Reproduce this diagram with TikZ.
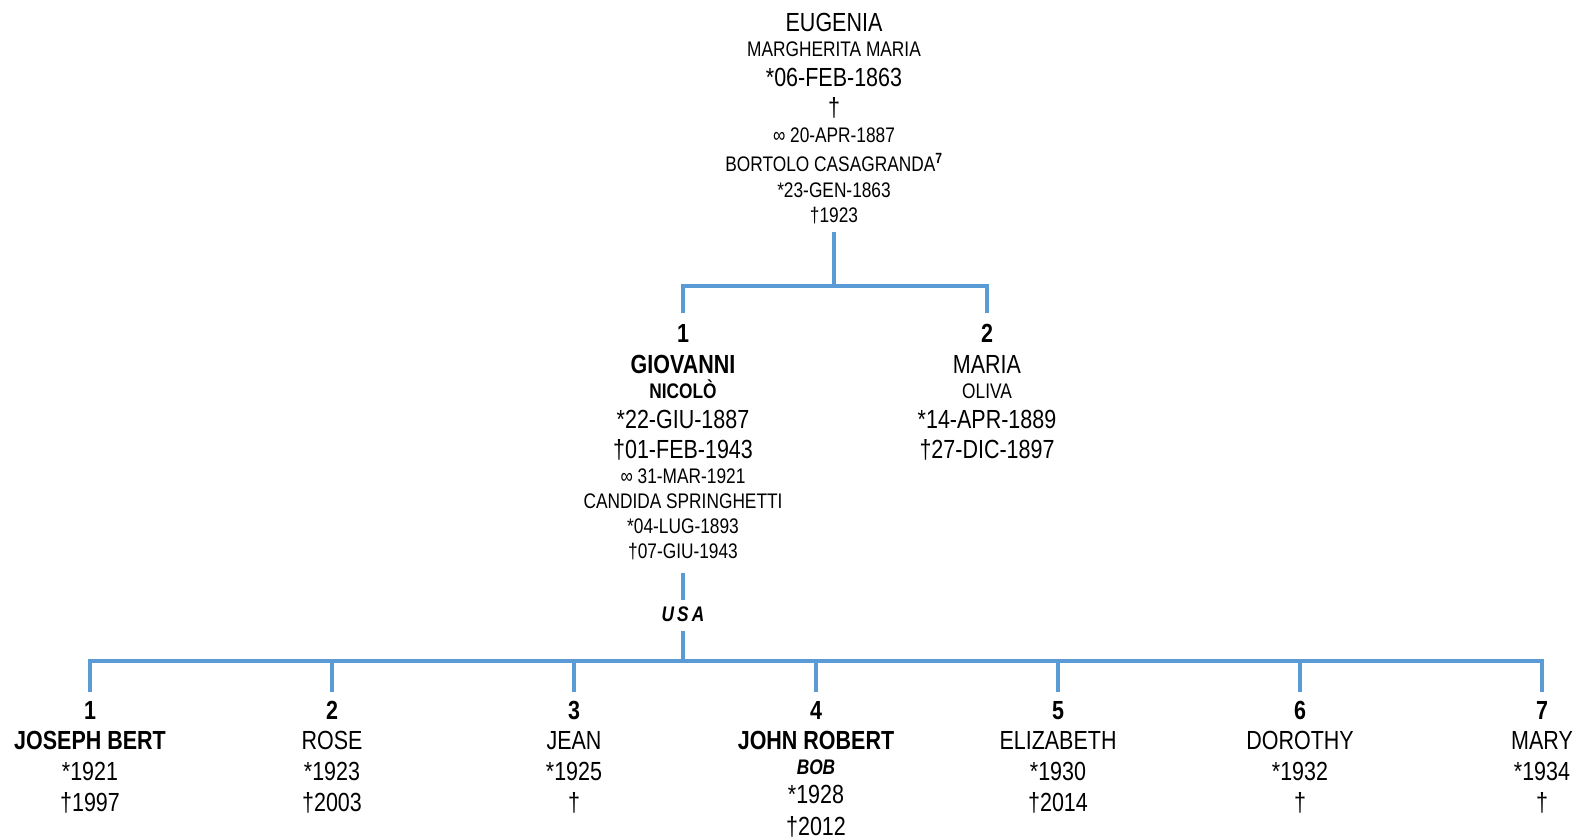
\documentclass[tikz,border=0pt]{standalone}
\usepackage{fontspec}
\setmainfont{Liberation Sans}[FakeStretch=0.82]
\newcommand\lgfont{\fontsize{26.2}{30}\selectfont}
\newcommand\smfont{\fontsize{21.1}{25}\selectfont}
\definecolor{tree}{HTML}{5B9BD5}
\tikzset{
  txt/.style={anchor=base, inner sep=0pt, text=black},
  lg/.style={txt, font=\lgfont},
  lgb/.style={txt, font=\lgfont\bfseries},
  sm/.style={txt, font=\smfont},
  smb/.style={txt, font=\smfont\bfseries},
  smbi/.style={txt, font=\smfont\bfseries\itshape},
  link/.style={draw=tree, line width=3.6pt, line join=miter, line cap=butt}
}
\begin{document}
\begin{tikzpicture}[x=1pt, y=-1pt]
\useasboundingbox (0,0) rectangle (1576,840);
% top person
\node[lg] (t1) at (834,31.4) {EUGENIA};
\node[sm] (t2) at (834,56.5) {MARGHERITA MARIA};
\node[lg] (t3) at (834,86.4) {*06-FEB-1863};
\node[lg] (t4) at (834,116.4) {†};
\node[sm] (t5) at (834,142.5) {∞ 20-APR-1887};
\node[sm] (t6) at (834,171.5) {BORTOLO CASAGRANDA\textsuperscript{\bfseries 7}};
\node[sm] (t7) at (834,197.5) {*23-GEN-1863};
\node[sm] (t8) at (834,222.5) {†1923};
% generation 2
\node[lgb] (a1) at (683,342) {1};
\node[lgb] (a2) at (683,373) {GIOVANNI};
\node[smb] (a3) at (683,398.5) {NICOLÒ};
\node[lg] (a4) at (683,428) {*22-GIU-1887};
\node[lg] (a5) at (683,458.5) {†01-FEB-1943};
\node[sm] (a6) at (683,483.5) {∞ 31-MAR-1921};
\node[sm] (a7) at (683,508) {CANDIDA SPRINGHETTI};
\node[sm] (a8) at (683,533) {*04-LUG-1893};
\node[sm] (a9) at (683,558.5) {†07-GIU-1943};
\node[lgb] (b1) at (987,342) {2};
\node[lg] (b2) at (987,373) {MARIA};
\node[sm] (b3) at (987,398.5) {OLIVA};
\node[lg] (b4) at (987,428) {*14-APR-1889};
\node[lg] (b5) at (987,458.5) {†27-DIC-1897};
% USA
\node[smbi] (usa) at (683,621) {U\hspace{3.2pt}S\hspace{3.2pt}A};
% generation 3
\node[lgb] (c1n) at (90,719) {1};
\node[lgb] (c1a) at (90,749) {JOSEPH BERT};
\node[lg] (c1b) at (90,780) {*1921};
\node[lg] (c1c) at (90,811.5) {†1997};
\node[lgb] (c2n) at (332,719) {2};
\node[lg] (c2a) at (332,749) {ROSE};
\node[lg] (c2b) at (332,780) {*1923};
\node[lg] (c2c) at (332,811.5) {†2003};
\node[lgb] (c3n) at (574,719) {3};
\node[lg] (c3a) at (574,749) {JEAN};
\node[lg] (c3b) at (574,780) {*1925};
\node[lg] (c3c) at (574,811.5) {†};
\node[lgb] (c4n) at (816,719) {4};
\node[lgb] (c4a) at (816,749) {JOHN ROBERT};
\node[smbi] (c4x) at (816,774.5) {BOB};
\node[lg] (c4b) at (816,803.5) {*1928};
\node[lg] (c4c) at (816,835.5) {†2012};
\node[lgb] (c5n) at (1058,719) {5};
\node[lg] (c5a) at (1058,749) {ELIZABETH};
\node[lg] (c5b) at (1058,780) {*1930};
\node[lg] (c5c) at (1058,811.5) {†2014};
\node[lgb] (c6n) at (1300,719) {6};
\node[lg] (c6a) at (1300,749) {DOROTHY};
\node[lg] (c6b) at (1300,780) {*1932};
\node[lg] (c6c) at (1300,811.5) {†};
\node[lgb] (c7n) at (1542,719) {7};
\node[lg] (c7a) at (1542,749) {MARY};
\node[lg] (c7b) at (1542,780) {*1934};
\node[lg] (c7c) at (1542,811.5) {†};
% junction coordinates
\coordinate (ttop) at (834,232);
\coordinate (tj) at (834,286);
\coordinate (a0) at (683,313);
\coordinate (b0) at (987,313);
\coordinate (au) at (683,573);
\coordinate (ua) at (683,600);
\coordinate (ub) at (683,631);
\coordinate (uj) at (683,661);
\coordinate (c1t) at (90,692);
\coordinate (c2t) at (332,692);
\coordinate (c3t) at (574,692);
\coordinate (c4t) at (816,692);
\coordinate (c5t) at (1058,692);
\coordinate (c6t) at (1300,692);
\coordinate (c7t) at (1542,692);
% connectors
\draw[link] (ttop) -- (tj);
\draw[link] (a0) |- (tj) -| (b0);
\draw[link] (au) -- (ua);
\draw[link] (ub) -- (uj);
\draw[link] (c1t) |- (uj) -| (c7t);
\foreach \c in {c2t,c3t,c4t,c5t,c6t}
  \draw[link] (\c) -- (\c |- uj);
\end{tikzpicture}
\end{document}
